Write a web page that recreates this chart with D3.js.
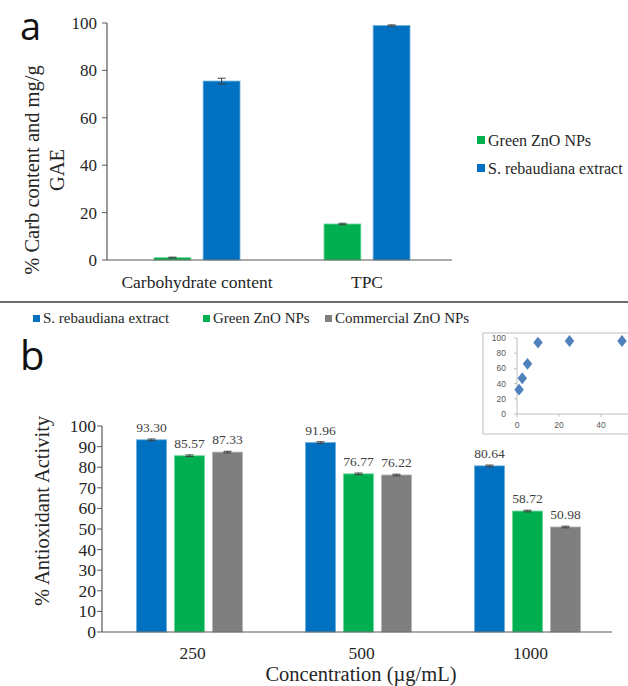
<!DOCTYPE html>
<html>
<head>
<meta charset="utf-8">
<script src="https://cdn.jsdelivr.net/npm/d3@7"></script>
<style>
  body { margin: 0; background: #fff; }
  svg { display: block; }
  text { fill: #262626; }
</style>
</head>
<body>
<svg id="chart" width="628" height="686" font-family="'Liberation Serif', 'Times New Roman', serif"></svg>
<script>
// panel a data
var catsA = ["Carbohydrate content", "TPC"];
var seriesA = ["Green ZnO NPs", "S. rebaudiana extract"];
var greenA = [1.0, 15.2];
var blueA = [75.5, 98.9];
var greenErrA = [0.2, 0.3];
var blueErrA = [1.2, 0.3];
var ticksA = [0, 20, 40, 60, 80, 100];

// panel b data
var catsB = ["250", "500", "1000"];
var seriesB = ["S. rebaudiana extract", "Green ZnO NPs", "Commercial ZnO NPs"];
var blueB = [93.30, 91.96, 80.64];
var greenB = [85.57, 76.77, 58.72];
var greyB = [87.33, 76.22, 50.98];
var errB = [0.4, 0.4, 0.4];
var ticksB = [0, 10, 20, 30, 40, 50, 60, 70, 80, 90, 100];

// inset data
var insetX = [1, 2.5, 5, 10, 25, 50];
var insetY = [32, 47, 66, 94, 96, 96];
var insetTicksX = [0, 20, 40];
var insetTicksY = [0, 20, 40, 60, 80, 100];

var colors = {
  "Green ZnO NPs": "#00b050",
  "S. rebaudiana extract": "#0070c0",
  "Commercial ZnO NPs": "#7f7f7f"
};
var edge = {
  "Green ZnO NPs": "#6fd99a",
  "S. rebaudiana extract": "#6aaee0",
  "Commercial ZnO NPs": "#b5b5b5"
};
var axisColor = "#595959";
var sansFont = "'Open Sans', 'Liberation Sans', sans-serif";

var svg = d3.select("#chart");

function errorBar(g, cx, yTop, yBot) {
  var e = g.append("g").attr("stroke", "#404040").attr("stroke-width", 1);
  e.append("line").attr("x1", cx).attr("x2", cx).attr("y1", yTop).attr("y2", yBot);
  e.append("line").attr("x1", cx - 4).attr("x2", cx + 4).attr("y1", yTop).attr("y2", yTop);
  e.append("line").attr("x1", cx - 4).attr("x2", cx + 4).attr("y1", yBot).attr("y2", yBot);
}

// ---------- panel a ----------
var ga = svg.append("g");
var yA = d3.scaleLinear().domain([0, 100]).range([260, 23]);
var xA = d3.scaleBand().domain(catsA).range([112, 452]);
var xSubA = d3.scaleBand().domain(seriesA).range([-43, 43]).paddingInner(0.25);

ga.append("line").attr("x1", 107).attr("x2", 107).attr("y1", yA(100)).attr("y2", yA(0))
  .attr("stroke", axisColor).attr("stroke-width", 1.2);
ga.selectAll(".tickA").data(ticksA).enter().append("line")
  .attr("x1", 102).attr("x2", 107)
  .attr("y1", function(d){ return yA(d); }).attr("y2", function(d){ return yA(d); })
  .attr("stroke", axisColor);
ga.selectAll(".tlA").data(ticksA).enter().append("text")
  .attr("x", 97).attr("y", function(d){ return yA(d) + 6; })
  .attr("text-anchor", "end").attr("font-size", 17)
  .text(function(d){ return d; });

var barsA = [];
catsA.forEach(function(c, i){
  barsA.push({cat: c, s: seriesA[0], v: greenA[i], e: greenErrA[i]});
  barsA.push({cat: c, s: seriesA[1], v: blueA[i], e: blueErrA[i]});
});

ga.selectAll(".barA").data(barsA).enter().append("rect")
  .attr("x", function(d){ return xA(d.cat) + xA.bandwidth()/2 + xSubA(d.s); })
  .attr("y", function(d){ return yA(d.v); })
  .attr("width", xSubA.bandwidth())
  .attr("height", function(d){ return yA(0) - yA(d.v); })
  .attr("fill", function(d){ return colors[d.s]; })
  .attr("stroke", function(d){ return edge[d.s]; }).attr("stroke-width", 0.8);

barsA.forEach(function(d){
  var cx = xA(d.cat) + xA.bandwidth()/2 + xSubA(d.s) + xSubA.bandwidth()/2;
  errorBar(ga, cx, yA(d.v + d.e), yA(d.v - d.e));
});

ga.append("line").attr("x1", 107).attr("x2", 452).attr("y1", yA(0)).attr("y2", yA(0))
  .attr("stroke", axisColor).attr("stroke-width", 1.2);
ga.selectAll(".clA").data(catsA).enter().append("text")
  .attr("x", function(d){ return xA(d) + xA.bandwidth()/2; })
  .attr("y", 288).attr("text-anchor", "middle").attr("font-size", 17.5)
  .text(function(d){ return d; });

var yTitleA = ga.append("text").attr("transform", "translate(39,170) rotate(-90)")
  .attr("text-anchor", "middle").attr("font-size", 20.5);
yTitleA.append("tspan").attr("x", 0).attr("dy", 0).text("% Carb content and mg/g");
yTitleA.append("tspan").attr("x", 0).attr("dy", 25).text("GAE");

seriesA.forEach(function(s, i){
  var ly = 146 + i * 28;
  ga.append("rect").attr("x", 477).attr("y", ly - 10).attr("width", 8).attr("height", 8)
    .attr("fill", colors[s]);
  ga.append("text").attr("x", 488).attr("y", ly).attr("font-size", 16).text(s);
});

svg.append("text").attr("x", 20).attr("y", 40).attr("font-size", 38)
  .attr("font-family", sansFont).style("fill", "#111")
  .text("a");

// separator
svg.append("line").attr("x1", 0).attr("x2", 628).attr("y1", 302).attr("y2", 302)
  .attr("stroke", "#6b6b6b").attr("stroke-width", 2);

// ---------- panel b ----------
var gb = svg.append("g");
var yB = d3.scaleLinear().domain([0, 100]).range([632, 426]);
var xB = d3.scaleBand().domain(catsB).range([105, 612]);
var xSubB = d3.scaleBand().domain(seriesB).range([-53, 53]).paddingInner(0.21);

gb.append("line").attr("x1", 102).attr("x2", 102).attr("y1", yB(100)).attr("y2", yB(0))
  .attr("stroke", axisColor).attr("stroke-width", 1.2);
gb.selectAll(".tickB").data(ticksB).enter().append("line")
  .attr("x1", 97).attr("x2", 102)
  .attr("y1", function(d){ return yB(d); }).attr("y2", function(d){ return yB(d); })
  .attr("stroke", axisColor);
gb.selectAll(".tlB").data(ticksB).enter().append("text")
  .attr("x", 96).attr("y", function(d){ return yB(d) + 6; })
  .attr("text-anchor", "end").attr("font-size", 17.5)
  .text(function(d){ return d; });

var barsB = [];
catsB.forEach(function(c, i){
  barsB.push({cat: c, s: seriesB[0], v: blueB[i], e: errB[i]});
  barsB.push({cat: c, s: seriesB[1], v: greenB[i], e: errB[i]});
  barsB.push({cat: c, s: seriesB[2], v: greyB[i], e: errB[i]});
});

gb.selectAll(".barB").data(barsB).enter().append("rect")
  .attr("x", function(d){ return xB(d.cat) + xB.bandwidth()/2 + xSubB(d.s); })
  .attr("y", function(d){ return yB(d.v); })
  .attr("width", xSubB.bandwidth())
  .attr("height", function(d){ return yB(0) - yB(d.v); })
  .attr("fill", function(d){ return colors[d.s]; })
  .attr("stroke", function(d){ return edge[d.s]; }).attr("stroke-width", 0.8);

barsB.forEach(function(d){
  var cx = xB(d.cat) + xB.bandwidth()/2 + xSubB(d.s) + xSubB.bandwidth()/2;
  errorBar(gb, cx, yB(d.v + d.e), yB(d.v - d.e));
  gb.append("text").attr("x", cx).attr("y", yB(d.v) - 8)
    .attr("text-anchor", "middle").attr("font-size", 13.5).style("fill", "#404040")
    .text(d.v.toFixed(2));
});

gb.append("line").attr("x1", 102).attr("x2", 612).attr("y1", yB(0)).attr("y2", yB(0))
  .attr("stroke", axisColor).attr("stroke-width", 1.2);
gb.selectAll(".clB").data(catsB).enter().append("text")
  .attr("x", function(d){ return xB(d) + xB.bandwidth()/2 + 3; })
  .attr("y", 659).attr("text-anchor", "middle").attr("font-size", 17.5)
  .text(function(d){ return d; });
gb.append("text").attr("x", 361).attr("y", 681).attr("text-anchor", "middle")
  .attr("font-size", 20.5).text("Concentration (µg/mL)");
gb.append("text").attr("transform", "translate(49,511) rotate(-90)")
  .attr("text-anchor", "middle").attr("font-size", 20.5).text("% Antioxidant Activity");

var legXB = [33, 203, 325];
seriesB.forEach(function(s, i){
  gb.append("rect").attr("x", legXB[i]).attr("y", 315).attr("width", 7).attr("height", 7)
    .attr("fill", colors[s]);
  gb.append("text").attr("x", legXB[i] + 10).attr("y", 323).attr("font-size", 15).text(s);
});

svg.append("text").attr("x", 20).attr("y", 370).attr("font-size", 40)
  .attr("font-family", sansFont).style("fill", "#111")
  .text("b");

// ---------- inset ----------
var gi = svg.append("g");
gi.append("rect").attr("x", 483).attr("y", 333).attr("width", 160).attr("height", 101)
  .attr("fill", "#fff").attr("stroke", "#c0c0c0").attr("stroke-width", 1);
var xI = d3.scaleLinear().domain([0, 60]).range([517, 643]);
var yI = d3.scaleLinear().domain([0, 100]).range([414, 338]);
gi.append("line").attr("x1", xI(0)).attr("x2", xI(0)).attr("y1", yI(100)).attr("y2", yI(0))
  .attr("stroke", "#bfbfbf");
gi.append("line").attr("x1", xI(0)).attr("x2", 628).attr("y1", yI(0)).attr("y2", yI(0))
  .attr("stroke", "#bfbfbf");
gi.selectAll(".tyI").data(insetTicksY).enter().append("line")
  .attr("x1", xI(0) - 3).attr("x2", xI(0))
  .attr("y1", function(d){ return yI(d); }).attr("y2", function(d){ return yI(d); })
  .attr("stroke", "#bfbfbf");
gi.selectAll(".txI").data(insetTicksX).enter().append("line")
  .attr("x1", function(d){ return xI(d); }).attr("x2", function(d){ return xI(d); })
  .attr("y1", yI(0)).attr("y2", yI(0) + 3)
  .attr("stroke", "#bfbfbf");
gi.selectAll(".lyI").data(insetTicksY).enter().append("text")
  .attr("x", 506).attr("y", function(d){ return yI(d) + 3; })
  .attr("text-anchor", "end").attr("font-size", 8.5).style("fill", "#595959")
  .attr("font-family", "'Liberation Sans', sans-serif")
  .text(function(d){ return d; });
gi.selectAll(".lxI").data(insetTicksX).enter().append("text")
  .attr("x", function(d){ return xI(d); }).attr("y", 428)
  .attr("text-anchor", "middle").attr("font-size", 8.5).style("fill", "#595959")
  .attr("font-family", "'Liberation Sans', sans-serif")
  .text(function(d){ return d; });
var diamond = d3.symbol().type(d3.symbolDiamond).size(50);
gi.selectAll(".ptI").data(insetX).enter().append("path")
  .attr("d", diamond)
  .attr("transform", function(d, i){ return "translate(" + xI(d) + "," + yI(insetY[i]) + ") scale(1.25,0.9)"; })
  .attr("fill", "#4f81bd");
</script>
</body>
</html>
